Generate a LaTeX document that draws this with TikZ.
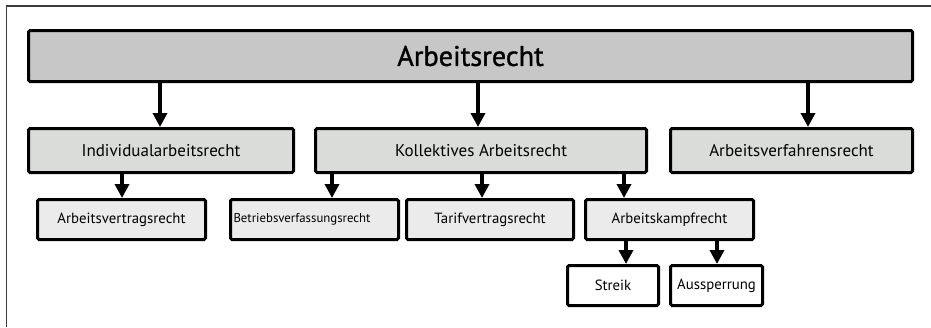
\documentclass[tikz,border=0pt]{standalone}
\usepackage{fontspec}
\setmainfont{PT Sans}
\newfontfamily\titelschrift[FakeBold=1.2]{PT Sans}
\usetikzlibrary{arrows.meta}
\definecolor{grauA}{HTML}{C6C7C6}
\definecolor{grauB}{HTML}{DADCDA}
\definecolor{grauC}{HTML}{EBEBEB}
\definecolor{rahmen}{HTML}{3C3C3C}

\begin{document}
\begin{tikzpicture}[x=1pt,y=-1pt,
		kasten/.style={draw, line width=3pt, rounded corners=1.5pt, inner sep=0pt},
		pfeil/.style={line width=4.5pt, -{Triangle[width=14pt,length=14pt]}}]
		
		\useasboundingbox (0,0) rectangle (931,327);
		\draw[rahmen, line width=1.8pt] (6.5,327) -- (6.5,6) -- (931,6);
		
		% oberste Ebene
		\node[kasten, fill=grauA, minimum width=884pt, minimum height=51pt, font=\titelschrift\fontsize{28.3}{32}\selectfont] (haupt) at (470.5,56) {Arbeitsrecht};
		
		% zweite Ebene
		\node[kasten, fill=grauB, minimum width=265pt, minimum height=44pt, font=\fontsize{17}{20}\selectfont] (indiv) at (161,150.5) {Individualarbeitsrecht};
		\node[kasten, fill=grauB, minimum width=331pt, minimum height=44pt, font=\fontsize{17}{20}\selectfont] (kollektiv) at (481,150.5) {Kollektives Arbeitsrecht};
		\node[kasten, fill=grauB, minimum width=242pt, minimum height=44pt, font=\fontsize{17}{20}\selectfont] (verfahren) at (791.5,150.5) {Arbeitsverfahrensrecht};
		
		% dritte Ebene
		\node[kasten, fill=grauC, minimum width=168pt, minimum height=40pt, font=\fontsize{14.8}{17}\selectfont] (vertrag) at (121.5,219.5) {Arbeitsvertragsrecht};
		\node[kasten, fill=grauC, minimum width=168pt, minimum height=40pt, text width=162pt, align=left, inner xsep=3pt, font=\fontsize{12.8}{15}\selectfont] (betrieb) at (314.5,219.5) {Betriebsverfassungsrecht};
		\node[kasten, fill=grauC, minimum width=167pt, minimum height=40pt, font=\fontsize{14.8}{17}\selectfont] (tarif) at (490,219.5) {Tarifvertragsrecht};
		\node[kasten, fill=grauC, minimum width=168pt, minimum height=40pt, font=\fontsize{14.8}{17}\selectfont] (kampf) at (669.5,219.5) {Arbeitskampfrecht};
		
		% vierte Ebene
		\node[kasten, fill=white, minimum width=91pt, minimum height=40pt, font=\fontsize{14.8}{17}\selectfont] (streik) at (613,285.5) {Streik};
		\node[kasten, fill=white, minimum width=92pt, minimum height=40pt, font=\fontsize{14.8}{17}\selectfont] (aussperr) at (716.5,285.5) {Aussperrung};
		
		\draw[pfeil] (haupt.south -| 160,0) -- (indiv.north -| 160,0);
		\draw[pfeil] (haupt.south -| 478,0) -- (kollektiv.north -| 478,0);
		\draw[pfeil] (haupt.south -| 808,0) -- (verfahren.north -| 808,0);
		
		\draw[pfeil] (indiv.south -| 122,0) -- (vertrag.north -| 122,0);
		\draw[pfeil] (kollektiv.south -| 332,0) -- (betrieb.north -| 332,0);
		\draw[pfeil] (kollektiv.south -| 482,0) -- (tarif.north -| 482,0);
		\draw[pfeil] (kollektiv.south -| 624,0) -- (kampf.north -| 624,0);
		
		\draw[pfeil] (kampf.south -| 626,0) -- (streik.north -| 626,0);
		\draw[pfeil] (kampf.south -| 717,0) -- (aussperr.north -| 717,0);
\end{tikzpicture}
\end{document}
